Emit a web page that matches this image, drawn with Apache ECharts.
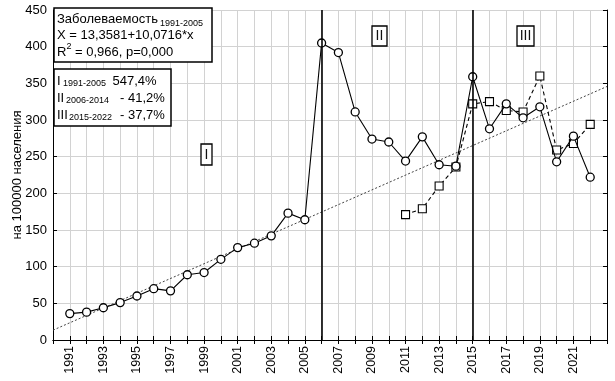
<!DOCTYPE html>
<html><head><meta charset="utf-8">
<script src="https://cdn.jsdelivr.net/npm/echarts@6/dist/echarts.min.js"></script>
<style>html,body{margin:0;padding:0;background:#fff}#c{width:615px;height:381px}</style>
</head><body><div id="c"></div>
<script>
const years = [1991,1992,1993,1994,1995,1996,1997,1998,1999,2000,2001,2002,2003,2004,2005,2006,2007,2008,2009,2010,2011,2012,2013,2014,2015,2016,2017,2018,2019,2020,2021,2022];
const incidence = [36,38,44,51,60,70,67,89,92,110,126,132,142,173,164,405,392,311,274,270,244,277,239,237,359,288,322,303,318,243,278,222];
const years2 = [2011,2012,2013,2014,2015,2016,2017,2018,2019,2020,2021,2022];
const series2 = [171,179,210,236,322,325,313,311,360,259,268,294];
const trendYears = [1990, 2023];
const trendValues = [13.4, 345.7];
const periodBreaks = [2006, 2015];
const yTicks = [0,50,100,150,200,250,300,350,400,450];

const FF = "'Liberation Sans', Arial, sans-serif";
const chart = echarts.init(document.getElementById('c'), null, {renderer:'canvas'});
const grid = {left:53, right:8, top:10, bottom:41};
const opt = {
  animation:false,
  backgroundColor:'#fff',
  grid: grid,
  xAxis:[{
    type:'value', min:1990, max:2023, interval:1,
    axisLine:{lineStyle:{color:'#000', width:1}},
    axisTick:{inside:true, length:4, lineStyle:{color:'#000'}},
    splitLine:{show:true, lineStyle:{color:'#d2d2d2', width:1}},
    axisLabel:{rotate:90, margin:6, fontSize:12.5, fontFamily:FF, color:'#000', hideOverlap:false,
      formatter: v => (v % 2 === 1 && v < 2023) ? String(v) : ''}
  },{
    type:'value', min:1990, max:2023, interval:1, position:'top',
    axisLine:{lineStyle:{color:'#000', width:1}},
    axisTick:{inside:true, length:4, lineStyle:{color:'#000'}},
    splitLine:{show:false}, axisLabel:{show:false}
  }],
  yAxis:[{
    type:'value', min:yTicks[0], max:yTicks[yTicks.length-1], interval:50,
    name:'на 100000 населения', nameLocation:'middle', nameGap:29, nameRotate:90, nameMoveOverlap:false,
    nameTextStyle:{fontSize:13, fontFamily:FF, color:'#000'},
    axisLine:{show:true, lineStyle:{color:'#000', width:1}},
    axisTick:{show:true, inside:true, length:4, lineStyle:{color:'#000'}},
    splitLine:{show:true, lineStyle:{color:'#d2d2d2', width:1}},
    axisLabel:{margin:6, fontSize:13, fontFamily:FF, color:'#000'}
  },{
    type:'value', min:yTicks[0], max:yTicks[yTicks.length-1], interval:50, position:'right',
    axisLine:{show:true, lineStyle:{color:'#000', width:1}},
    axisTick:{show:true, inside:true, length:4, lineStyle:{color:'#000'}},
    splitLine:{show:false}, axisLabel:{show:false}
  }],
  series:[{
    type:'line', data: trendYears.map((y,i)=>[y, trendValues[i]]),
    symbol:'none', lineStyle:{color:'#444', width:1, type:[2,2]}, z:1, silent:true
  },{
    type:'line', data: years.map((y,i)=>[y, incidence[i]]),
    symbol:'circle', symbolSize:8,
    itemStyle:{color:'#fff', borderColor:'#000', borderWidth:1.3},
    lineStyle:{color:'#000', width:1.1}, z:3,
    markLine:{silent:true, symbol:'none', label:{show:false},
      lineStyle:{color:'#000', width:1.6, type:'solid'},
      data: periodBreaks.map(v=>({xAxis:v}))}
  },{
    type:'line', data: years2.map((y,i)=>[y, series2[i]]),
    symbol:'rect', symbolSize:8,
    itemStyle:{color:'#fff', borderColor:'#000', borderWidth:1.1},
    lineStyle:{color:'#000', width:1.1, type:[4,3]}, z:2
  }],
  graphic:[
    {type:'rect', shape:{x:54, y:8, width:158, height:54}, style:{fill:'#fff', stroke:'#000', lineWidth:1.5}, z:10},
    {type:'text', x:57, y:19, style:{text:'Заболеваемость', font:'13px '+FF, fill:'#000', textVerticalAlign:'middle'}, z:11},
    {type:'text', x:160, y:23.5, style:{text:'1991-2005', font:'9px '+FF, fill:'#000', textVerticalAlign:'middle'}, z:11},
    {type:'text', x:57, y:35, style:{text:'X = 13,3581+10,0716*x', font:'13px '+FF, fill:'#000', textVerticalAlign:'middle'}, z:11},
    {type:'text', x:57, y:52, style:{text:'R', font:'13px '+FF, fill:'#000', textVerticalAlign:'middle'}, z:11},
    {type:'text', x:66.5, y:47, style:{text:'2', font:'9px '+FF, fill:'#000', textVerticalAlign:'middle'}, z:11},
    {type:'text', x:75, y:52, style:{text:'= 0,966, p=0,000', font:'13px '+FF, fill:'#000', textVerticalAlign:'middle'}, z:11},

    {type:'rect', shape:{x:54, y:69, width:117, height:57}, style:{fill:'#fff', stroke:'#000', lineWidth:1.5}, z:10},
    {type:'text', x:57, y:81, style:{text:'I', font:'13px '+FF, fill:'#000', textVerticalAlign:'middle'}, z:11},
    {type:'text', x:63, y:84, style:{text:'1991-2005', font:'9px '+FF, fill:'#000', textVerticalAlign:'middle'}, z:11},
    {type:'text', x:112.5, y:81, style:{text:'547,4%', font:'13px '+FF, fill:'#000', textVerticalAlign:'middle'}, z:11},
    {type:'text', x:57, y:98, style:{text:'II', font:'13px '+FF, fill:'#000', textVerticalAlign:'middle'}, z:11},
    {type:'text', x:66, y:101, style:{text:'2006-2014', font:'9px '+FF, fill:'#000', textVerticalAlign:'middle'}, z:11},
    {type:'text', x:120, y:98, style:{text:'- 41,2%', font:'13px '+FF, fill:'#000', textVerticalAlign:'middle'}, z:11},
    {type:'text', x:57, y:115, style:{text:'III', font:'13px '+FF, fill:'#000', textVerticalAlign:'middle'}, z:11},
    {type:'text', x:69, y:118, style:{text:'2015-2022', font:'9px '+FF, fill:'#000', textVerticalAlign:'middle'}, z:11},
    {type:'text', x:120, y:115, style:{text:'- 37,7%', font:'13px '+FF, fill:'#000', textVerticalAlign:'middle'}, z:11},

    {type:'rect', shape:{x:201, y:144, width:11, height:21}, style:{fill:'#fff', stroke:'#000', lineWidth:1.3}, z:10},
    {type:'text', x:206.5, y:155, style:{text:'I', font:'14px '+FF, fill:'#111', textAlign:'center', textVerticalAlign:'middle'}, z:11},
    {type:'rect', shape:{x:372, y:26, width:15, height:20}, style:{fill:'#fff', stroke:'#000', lineWidth:1.3}, z:10},
    {type:'text', x:379.5, y:36.5, style:{text:'II', font:'14px '+FF, fill:'#111', textAlign:'center', textVerticalAlign:'middle'}, z:11},
    {type:'rect', shape:{x:517, y:26, width:17, height:20}, style:{fill:'#fff', stroke:'#000', lineWidth:1.3}, z:10},
    {type:'text', x:525.5, y:36.5, style:{text:'III', font:'14px '+FF, fill:'#111', textAlign:'center', textVerticalAlign:'middle'}, z:11}
  ]
};
chart.setOption(opt);
</script></body></html>
